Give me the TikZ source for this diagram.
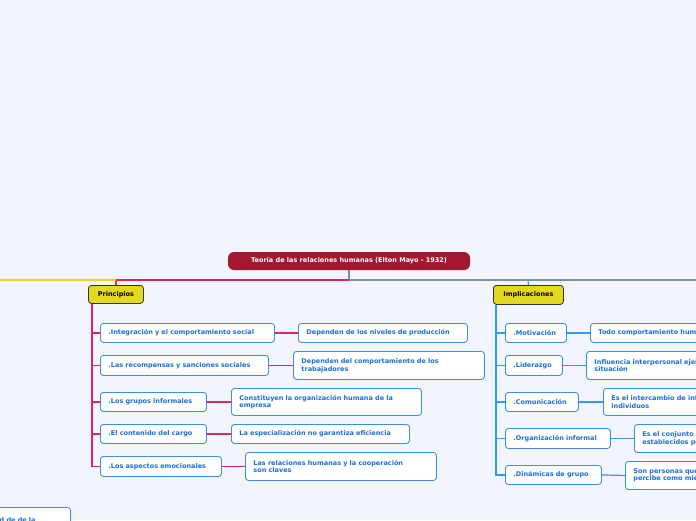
\documentclass[tikz,border=0pt]{standalone}
\usetikzlibrary{calc}
\usepackage{fontspec}
\setmainfont{DejaVu Sans}
\begin{document}
\begin{tikzpicture}[x=1pt,y=-1pt,
  every node/.style={font=\bfseries\fontsize{6.5}{7.6}\selectfont},
  leaf/.style={draw=bordblue,fill=white,rounded corners=3pt,line width=0.9pt,text=txtblue,anchor=north west,align=left,inner xsep=8pt,inner ysep=2pt},
  head/.style={draw=black!80,fill=headyel,rounded corners=3pt,line width=0.8pt,anchor=north west,inner sep=0pt},
  redl/.style={draw=linered,line width=1.2pt},
  bluel/.style={draw=lineblue,line width=1.2pt}]
\definecolor{bg}{HTML}{F2F5FE}
\definecolor{bordblue}{HTML}{3C8DE6}
\definecolor{txtblue}{HTML}{1B6FD6}
\definecolor{headyel}{HTML}{E3D91E}
\definecolor{linered}{HTML}{E0245E}
\definecolor{lineblue}{HTML}{2F9BEA}
\definecolor{titred}{HTML}{A3182F}
\definecolor{gryl}{HTML}{7F9090}
\definecolor{yell}{HTML}{F2D22A}
\useasboundingbox (0,0) rectangle (696,520);
\clip (0,0) rectangle (696,520);
\fill[bg] (0,0) rectangle (696,520);
% title
\node[fill=titred,text=white,rounded corners=6pt,minimum width=242pt,minimum height=18pt,inner sep=0pt] (title) at (349,261) {Teoría de las relaciones humanas (Elton Mayo - 1932)};
\node[head,minimum width=55pt,minimum height=18pt] (princ) at (88,285) {Principios};
\node[head,minimum width=70pt,minimum height=19pt] (impl) at (493,285) {Implicaciones};
\coordinate (j) at (349,280);
\draw[gryl,line width=1.2pt] (title.south) -- (j) -- (700,280);
\draw[linered,line width=1.2pt] (j) -| (princ.north);
\draw[yell,line width=1.2pt] (-5,280) -- (116,280);
\draw[bluel] (528,280) -- (impl.north);
% left children
\newcommand{\lf}[5]{\node[leaf,text width=#4pt-16pt,minimum height=#5pt] (#1) at #2 {#3};}
\lf{a1}{(100,323)}{.Integración y el comportamiento social}{174}{19}
\lf{a2}{(100,355)}{.Las recompensas y sanciones sociales}{168}{20}
\lf{a3}{(100,392)}{.Los grupos informales}{106}{19}
\lf{a4}{(100,424)}{.El contenido del cargo}{106}{19}
\lf{a5}{(100,456)}{.Los aspectos emocionales}{121}{20}
\lf{b1}{(298,323)}{Dependen de los niveles de producción}{169}{19}
\lf{b2}{(293,351)}{Dependen del comportamiento de los\\trabajadores}{191}{28}
\lf{b3}{(231,388)}{Constituyen la organización humana de la\\empresa}{190}{27}
\lf{b4}{(231,424)}{La especialización no garantiza eficiencia}{178}{19}
\lf{b5}{(245,452)}{Las relaciones humanas y la cooperación\\son claves}{191}{28}
\coordinate (lv) at ($(princ.south west)+(4,0)$);
\foreach \i in {1,...,5}{\draw[redl] (lv) |- (a\i.west); \draw[redl] (a\i.east) -- (b\i.west);}
% right children
\lf{c1}{(505,323)}{.Motivación}{61}{19}
\lf{c2}{(505,355)}{.Liderazgo}{57}{20}
\lf{c3}{(505,392)}{.Comunicación}{73}{19}
\lf{c4}{(505,428)}{.Organización informal}{105}{20}
\lf{c5}{(505,465)}{.Dinámicas de grupo}{96}{19}
\lf{d1}{(590,323)}{Todo comportamiento humano es motivado}{200}{19}
\lf{d2}{(586,351)}{Influencia interpersonal ejercida en una\\situación}{200}{28}
\lf{d3}{(603,388)}{Es el intercambio de información entre\\individuos}{200}{27}
\lf{d4}{(634,424)}{Es el conjunto de interacciones\\establecidos por}{200}{28}
\lf{d5}{(625,461)}{Son personas que se\\percibe como miembros}{200}{28}
\coordinate (rv) at ($(impl.south west)+(3,0)$);
\foreach \i in {1,...,5}{\draw[bluel] (rv) |- (c\i.west); \draw[bluel] (c\i.east) -- (d\i.west);}
% bottom-left partial
\node[leaf,text width=84pt,minimum height=25pt,anchor=north east] (e1) at (71,507) {Unidad de de la};
\end{tikzpicture}
\end{document}
